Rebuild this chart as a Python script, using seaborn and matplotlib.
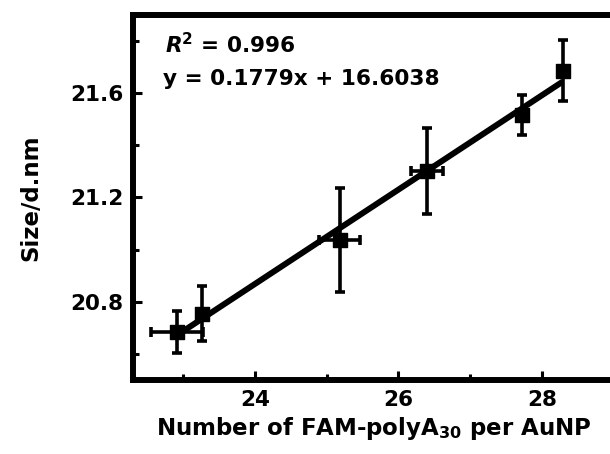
import matplotlib
matplotlib.use("Agg")
import matplotlib.pyplot as plt
from matplotlib.ticker import MultipleLocator
import seaborn as sns
import pandas as pd

# values
strands_per_np = [22.91, 23.26, 25.18, 26.40, 27.72, 28.29]
size_dnm = [20.683, 20.754, 21.036, 21.300, 21.517, 21.686]
strands_err = [0.36, 0.05, 0.29, 0.225, 0.05, 0.05]
size_err = [0.08, 0.105, 0.20, 0.165, 0.076, 0.117]

r2_label = r"$\mathbfit{R}^{2}$ = 0.996"
eq_label = "y = 0.1779x + 16.6038"

sns.set_style("ticks", rc={"axes.edgecolor": "black", "text.color": "black",
                           "axes.labelcolor": "black", "xtick.color": "black",
                           "ytick.color": "black"})
plt.rcParams["font.family"] = ["DejaVu Sans"]
plt.rcParams["font.weight"] = "bold"
plt.rcParams["mathtext.default"] = "bf"

df = pd.DataFrame({"n": strands_per_np, "size": size_dnm})

fig = plt.figure(figsize=(6.1, 4.54), dpi=100)
ax = fig.add_axes([0.218, 0.163, 0.788, 0.804])

ax.errorbar(df["n"], df["size"], xerr=strands_err, yerr=size_err, fmt="none",
            ecolor="black", elinewidth=2.6, capsize=3.6, capthick=2.6, zorder=2)
sns.regplot(data=df, x="n", y="size", ax=ax, ci=None, color="black",
            marker="s", scatter_kws={"s": 115, "alpha": 1, "zorder": 3,
                                     "edgecolors": "black"},
            line_kws={"linewidth": 4.3, "solid_capstyle": "butt", "zorder": 3})

ax.set_xlim(22.3, 29.0)
ax.set_ylim(20.5, 21.9)
ax.xaxis.set_major_locator(MultipleLocator(2))
ax.xaxis.set_minor_locator(MultipleLocator(1))
ax.yaxis.set_major_locator(MultipleLocator(0.4))
ax.yaxis.set_minor_locator(MultipleLocator(0.2))
ax.set_xticks([24, 26, 28])
ax.set_yticks([20.8, 21.2, 21.6])

ax.tick_params(which="major", direction="in", length=6.5, width=2.2,
               labelsize=15.5, pad=7, colors="black")
ax.tick_params(which="minor", direction="in", length=4, width=2.2,
               colors="black")
for s in ax.spines.values():
    s.set_linewidth(4.3)
    s.set_color("black")

ax.set_xlabel(r"Number of FAM-polyA$_{30}$ per AuNP", fontsize=16.5,
              fontweight="bold", labelpad=4, color="black")
ax.set_ylabel("Size/d.nm", fontsize=16.5, fontweight="bold", labelpad=20,
              color="black")

ax.text(0.066, 0.896, r2_label, transform=ax.transAxes, fontsize=15.6,
        fontweight="bold", va="baseline", color="black")
ax.text(0.062, 0.808, eq_label, transform=ax.transAxes, fontsize=15.6,
        fontweight="bold", va="baseline", color="black")

fig.savefig("out.png", dpi=100)
